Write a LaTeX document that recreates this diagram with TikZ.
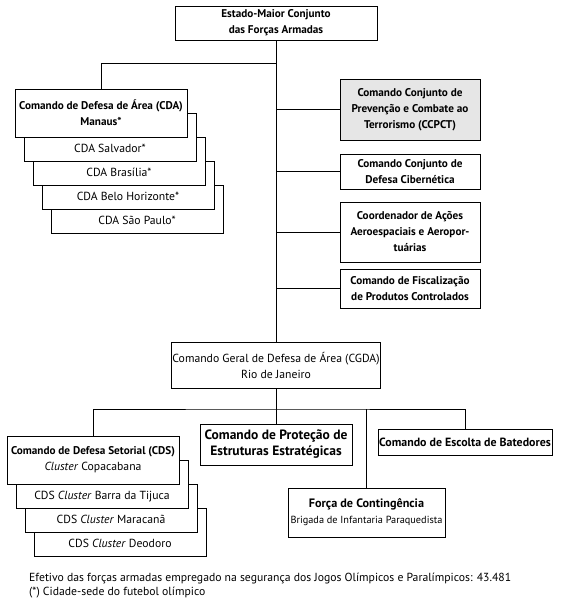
\documentclass[tikz,border=0pt]{standalone}
\usepackage{fontspec}
\setmainfont{PT Sans}
\usetikzlibrary{positioning, calc}
\definecolor{boxgray}{RGB}{230, 230, 230}

\begin{document}
\begin{tikzpicture}[
    x=1pt, y=-1pt,
    unit/.style={draw, line width=0.9pt, fill=white, align=center, inner sep=1pt,
                 font=\fontsize{11.2}{16}\selectfont\bfseries},
    plainunit/.style={unit, font=\fontsize{11.7}{16}\selectfont},
    stackbox/.style={plainunit, minimum width=172pt, minimum height=48pt,
                     text height=32pt, text depth=1pt, inner sep=0pt},
    sidebox/.style={unit, minimum width=140pt},
    link/.style={line width=0.7pt}
]
    \useasboundingbox (0,0) rectangle (561,604);

    % Top and trunk
    \node[unit, minimum width=202pt, minimum height=34pt] (emcfa) at (276,23)
        {Estado-Maior Conjunto\\das For\c{c}as Armadas};
    \node[plainunit, minimum width=208pt, minimum height=46pt] (cgda) at (276,365)
        {Comando Geral de Defesa de \'Area (CGDA)\\Rio de Janeiro};
    \coordinate (split) at (276,63);
    \coordinate (lowbar) at (276,409);

    % Stack CDA (back to front)
    \node[stackbox] (cdasp) at (137,209) {CDA S\~ao Paulo*};
    \node[stackbox] (cdabh) at ($(cdasp)+(-9,-24)$) {CDA Belo Horizonte*};
    \node[stackbox] (cdabr) at ($(cdabh)+(-9,-24)$) {CDA Bras\'ilia*};
    \node[stackbox] (cdasa) at ($(cdabr)+(-9,-24)$) {CDA Salvador*};
    \node[unit, minimum width=172pt, minimum height=48pt] (cdama) at ($(cdasa)+(-9,-24)$)
        {Comando de Defesa de \'Area (CDA)\\Manaus*};

    % Right column
    \node[sidebox, fill=boxgray, minimum height=61pt] (ccpct) at (410,109.5)
        {Comando Conjunto de\\Preven\c{c}\~ao e Combate ao\\Terrorismo (CCPCT)};
    \node[sidebox, minimum height=35pt] (cciber) at (410,171.5)
        {Comando Conjunto de\\Defesa Cibern\'etica};
    \node[sidebox, minimum height=60pt] (coaer) at (410,232)
        {Coordenador de A\c{c}\~oes\\Aeroespaciais e Aeropor-\\tu\'arias};
    \node[sidebox, minimum height=39pt] (cfpc) at (410,288.5)
        {Comando de Fiscaliza\c{c}\~ao\\de Produtos Controlados};

    % Lower level
    \node[unit, minimum width=152pt, minimum height=41pt, font=\fontsize{13.5}{16}\selectfont\bfseries]
        (cpee) at (276,444.5) {Comando de Prote\c{c}\~ao de\\Estruturas Estrat\'egicas};
    \node[unit, minimum width=174pt, minimum height=26pt, font=\fontsize{11.9}{13}\selectfont\bfseries]
        (escolta) at (465,442) {Comando de Escolta de Batedores};
    \node[unit, minimum width=157pt, minimum height=49pt, font=\fontsize{12.2}{16}\selectfont]
        (forca) at (366.5,512.5)
        {\textbf{For\c{c}a de Conting\^encia}\\{\fontsize{10.3}{12}\selectfont Brigada de Infantaria Paraquedista}};

    % Stack CDS (back to front)
    \node[stackbox] (cdsde) at (120,532) {CDS \textit{Cluster} Deodoro};
    \node[stackbox] (cdsma) at ($(cdsde)+(-9,-24)$) {CDS \textit{Cluster} Maracan\~a};
    \node[stackbox] (cdsbt) at ($(cdsma)+(-9,-24)$) {CDS \textit{Cluster} Barra da Tijuca};
    \node[unit, minimum width=172pt, minimum height=48pt] (cdscp) at ($(cdsbt)+(-9,-24)$)
        {Comando de Defesa Setorial (CDS)\\\mdseries\fontsize{11.7}{16}\selectfont\textit{Cluster} Copacabana};

    % Footnote
    \node[anchor=north west, align=left, inner sep=0pt, font=\fontsize{11.7}{13.5}\selectfont]
        (nota) at (29,573)
        {Efetivo das for\c{c}as armadas empregado na seguran\c{c}a dos Jogos Ol\'impicos e Paral\'impicos: 43.481\\
         (*) Cidade-sede do futebol ol\'impico};

    % Connectors
    \draw[link] (emcfa.south) -- (cgda.north);
    \draw[link] (split) -| (cdama.north);
    \foreach \n in {ccpct, cciber, coaer, cfpc}
        \draw[link] (\n.west) -- (\n.west -| split);
    \draw[link] (cgda.south) -- (cpee.north);
    \draw[link] (cdscp.north) |- (lowbar) -| (escolta.north);
    \draw[link] (forca.north) -- (forca.north |- lowbar);
\end{tikzpicture}
\end{document}
